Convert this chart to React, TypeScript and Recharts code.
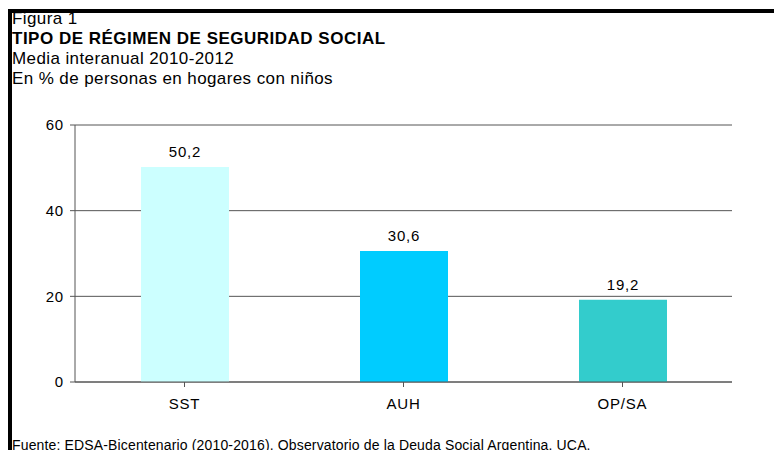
import { Bar, BarChart, CartesianGrid, Cell, LabelList, XAxis, YAxis } from "recharts";

const CATEGORIES = ["SST", "AUH", "OP/SA"];
const VALUES = [50.2, 30.6, 19.2];
const COLORS = ["#CCFFFF", "#00CCFF", "#33CCCC"];
const Y_TICKS = [0, 20, 40, 60];

const data = CATEGORIES.map((name, i) => ({ name, value: VALUES[i] }));

const font = "'Liberation Sans', Arial, sans-serif";

export default function App() {
  return (
    <div
      style={{
        position: "fixed",
        left: 0,
        top: 0,
        width: 774,
        height: 450,
        background: "#fff",
        overflow: "hidden",
        fontFamily: font,
        color: "#000",
      }}
    >
      {/* frame */}
      <div style={{ position: "absolute", left: 8, top: 9, width: 766, height: 4, background: "#000" }} />
      <div style={{ position: "absolute", left: 8, top: 9, width: 4, height: 441, background: "#000" }} />

      <div style={{ position: "absolute", left: 12, top: 9, fontSize: 17, lineHeight: "20px", letterSpacing: 0.4 }}>
        <div>Figura 1</div>
        <div style={{ fontWeight: "bold", fontSize: 17, letterSpacing: 0.5 }}>TIPO DE RÉGIMEN DE SEGURIDAD SOCIAL</div>
        <div>Media interanual 2010-2012</div>
        <div>En % de personas en hogares con niños</div>
      </div>

      <div style={{ position: "absolute", left: 0, top: 0 }}>
        <BarChart
          width={774}
          height={450}
          data={data}
          margin={{ top: 125, right: 42, bottom: 38, left: 15 }}
          barCategoryGap="30%"
        >
          <CartesianGrid vertical={false} stroke="#555" strokeWidth={1} />
          <XAxis
            dataKey="name"
            height={30}
            stroke="#555"
            tickSize={5}
            interval={0}
            tick={{ fill: "#000", fontSize: 15, fontFamily: font, dy: 9, letterSpacing: 0.8 }}
          />
          <YAxis
            domain={[0, 60]}
            ticks={Y_TICKS}
            width={60}
            stroke="#555"
            tickSize={5}
            tick={{ fill: "#000", fontSize: 15, fontFamily: font, dx: -4, letterSpacing: 0.8 }}
          />
          <Bar dataKey="value" isAnimationActive={false} barSize={88}>
            {data.map((d, i) => (
              <Cell key={d.name} fill={COLORS[i]} />
            ))}
            <LabelList
              dataKey="value"
              position="top"
              offset={10}
              formatter={(v: number) => v.toFixed(1).replace(".", ",")}
              style={{ fill: "#000", fontSize: 15, fontFamily: font, letterSpacing: 0.8 }}
            />
          </Bar>
        </BarChart>
      </div>

      <div style={{ position: "absolute", left: 12, top: 437, fontSize: 14, letterSpacing: 0.15, whiteSpace: "nowrap" }}>
        Fuente: EDSA-Bicentenario (2010-2016). Observatorio de la Deuda Social Argentina. UCA.
      </div>
    </div>
  );
}
